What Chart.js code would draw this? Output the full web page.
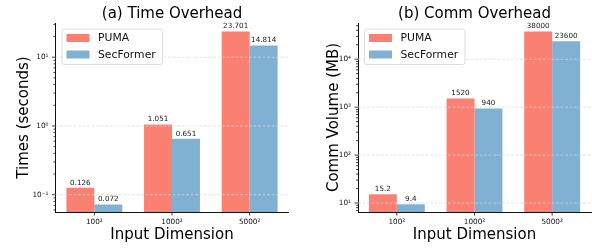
<!DOCTYPE html>
<html>
<head>
<meta charset="utf-8">
<script src="https://cdn.jsdelivr.net/npm/chart.js@4/dist/chart.umd.min.js"></script>
<style>
  html, body { margin: 0; padding: 0; background: #fff; }
  .panel { position: absolute; top: 0; width: 296px; height: 248px; }
</style>
</head>
<body>
<div class="panel" style="left:0"><canvas id="timeChart"></canvas></div>
<div class="panel" style="left:296px"><canvas id="commChart"></canvas></div>
<script>
'use strict';

// data
const dimensions = ['100²', '1000²', '5000²'];
const seriesNames = ['PUMA', 'SecFormer'];
const seriesColors = ['#FA8072', '#80B1D3'];
const pumaTime = [0.126, 1.051, 23.701];
const secformerTime = [0.072, 0.651, 14.814];
const pumaComm = [15.2, 1520, 38000];
const secformerComm = [9.4, 940, 23600];

const FONT = 'DejaVu Sans';
const SUP = {'0': '⁰', '1': '¹', '2': '²', '3': '³', '4': '⁴', '5': '⁵', '6': '⁶', '7': '⁷', '8': '⁸', '9': '⁹', '-': '⁻'};

function isDecade(v) {
  const l = Math.log10(v);
  return Math.abs(l - Math.round(l)) < 1e-9;
}
function decadeLabel(v) {
  const e = String(Math.round(Math.log10(v)));
  return '10' + e.split('').map(c => SUP[c]).join('');
}

// grid over the bars, value labels, tick marks, legend box
const decorPlugin = {
  id: 'decor',
  afterDatasetsDraw(chart) {
    const ctx = chart.ctx;
    const a = chart.chartArea;
    const y = chart.scales.y;
    ctx.save();
    // value labels
    ctx.fillStyle = '#222';
    ctx.font = '7.2px "' + FONT + '"';
    ctx.textAlign = 'center';
    ctx.textBaseline = 'bottom';
    chart.data.datasets.forEach((ds, i) => {
      chart.getDatasetMeta(i).data.forEach((bar, j) => {
        ctx.fillText(String(ds.data[j]), bar.x, bar.y - 1.5);
      });
    });
    // dashed grid at decades
    ctx.strokeStyle = 'rgba(215,215,215,0.8)';
    ctx.lineWidth = 0.8;
    ctx.setLineDash([3, 1.5]);
    for (let e = Math.ceil(Math.log10(y.min)); e <= Math.floor(Math.log10(y.max)); e++) {
      const py = y.getPixelForValue(Math.pow(10, e));
      ctx.beginPath();
      ctx.moveTo(a.left, py);
      ctx.lineTo(a.right, py);
      ctx.stroke();
    }
    ctx.restore();
  },
  afterDraw(chart) {
    const ctx = chart.ctx;
    const a = chart.chartArea;
    const x = chart.scales.x;
    const y = chart.scales.y;
    ctx.save();
    ctx.strokeStyle = '#111';
    ctx.lineWidth = 0.8;
    // y ticks, major and minor
    for (let e = Math.floor(Math.log10(y.min)); e <= Math.ceil(Math.log10(y.max)); e++) {
      for (let k = 1; k <= 9; k++) {
        const v = k * Math.pow(10, e);
        if (v < y.min || v > y.max) continue;
        const py = y.getPixelForValue(v);
        const len = k === 1 ? 3.5 : 2;
        ctx.beginPath();
        ctx.moveTo(a.left - len, py);
        ctx.lineTo(a.left, py);
        ctx.stroke();
      }
    }
    // x ticks
    dimensions.forEach((d, i) => {
      const px = x.getPixelForValue(i);
      ctx.beginPath();
      ctx.moveTo(px, a.bottom);
      ctx.lineTo(px, a.bottom + 3.5);
      ctx.stroke();
    });
    // legend
    const lx = a.left + 6.5, ly = a.top + 6, lw = 100.5, lh = 35.5;
    ctx.fillStyle = 'rgba(255,255,255,0.85)';
    ctx.strokeStyle = '#d4d4d4';
    ctx.lineWidth = 0.8;
    ctx.beginPath();
    ctx.roundRect(lx, ly, lw, lh, 2.5);
    ctx.fill();
    ctx.stroke();
    ctx.font = '10.8px "' + FONT + '"';
    ctx.textAlign = 'left';
    ctx.textBaseline = 'middle';
    chart.data.datasets.forEach((ds, i) => {
      const py = ly + 5 + i * 16.5;
      ctx.fillStyle = ds.backgroundColor;
      ctx.fillRect(lx + 4.5, py, 23, 8);
      ctx.fillStyle = '#111';
      ctx.fillText(ds.label, lx + 36, py + 4.5);
    });
    ctx.restore();
  }
};

function makeChart(id, title, yTitle, values, yMin, yMax, yWidth, yTitlePad, padRight) {
  const ctx = document.getElementById(id).getContext('2d');
  return new Chart(ctx, {
    type: 'bar',
    data: {
      labels: dimensions,
      datasets: values.map((v, i) => ({
        label: seriesNames[i],
        data: v,
        backgroundColor: seriesColors[i],
        borderWidth: 0,
        categoryPercentage: 0.72,
        barPercentage: 1.0
      }))
    },
    options: {
      responsive: true,
      maintainAspectRatio: false,
      animation: false,
      layout: { padding: { left: 0, right: padRight, top: 0, bottom: 0 } },
      plugins: {
        legend: { display: false },
        tooltip: { enabled: false },
        title: {
          display: true,
          text: title,
          fullSize: false,
          color: '#000',
          font: { family: FONT, size: 15, weight: 'normal' },
          padding: { top: 5, bottom: 0 }
        }
      },
      scales: {
        x: {
          offset: true,
          grid: { display: false, drawTicks: false },
          border: { display: true, color: '#111', width: 1 },
          ticks: { color: '#111', font: { family: FONT, size: 7.3 }, padding: 5.3 },
          title: {
            display: true,
            text: 'Input Dimension',
            color: '#000',
            font: { family: FONT, size: 15 },
            padding: { top: 0, bottom: 3.5 }
          },
          afterFit(scale) { scale.height = 36; }
        },
        y: {
          type: 'logarithmic',
          min: yMin,
          max: yMax,
          grid: { display: false, drawTicks: false },
          border: { display: true, color: '#111', width: 1 },
          ticks: {
            autoSkip: false,
            color: '#111',
            font: { family: FONT, size: 7.3 },
            padding: 7,
            callback: v => isDecade(v) ? decadeLabel(v) : ''
          },
          title: {
            display: true,
            text: yTitle,
            color: '#000',
            font: { family: FONT, size: 15 },
            padding: { top: yTitlePad, bottom: 0 }
          },
          afterFit(scale) { scale.width = yWidth; }
        }
      }
    },
    plugins: [decorPlugin]
  });
}

makeChart('timeChart', '(a) Time Overhead', 'Times (seconds)',
  [pumaTime, secformerTime], 0.0561, 31.4, 55.5, 15, 7.5);
makeChart('commChart', '(b) Comm Overhead', 'Comm Volume (MB)',
  [pumaComm, secformerComm], 6.49, 57000, 62, 29, 1);
</script>
</body>
</html>
